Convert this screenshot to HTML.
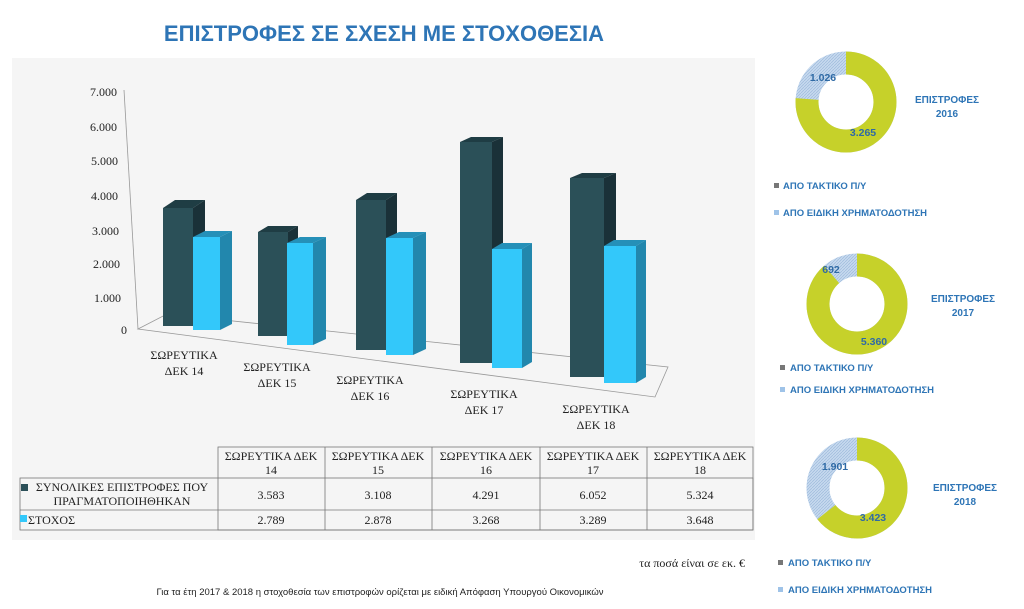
<!DOCTYPE html>
<html><head><meta charset="utf-8"><style>
body{margin:0;width:1024px;height:604px;background:#fff;overflow:hidden;font-family:"Liberation Sans",sans-serif}
</style></head><body>
<svg width="1024" height="604" xmlns="http://www.w3.org/2000/svg">
<defs>
<pattern id="h" width="3" height="3" patternUnits="userSpaceOnUse"><rect width="3" height="3" fill="#c6d9ee"/><path d="M0 3L3 0" stroke="#9fbbdc" stroke-width="0.7"/></pattern>
</defs>
<text x="384" y="41" text-anchor="middle" font-family="Liberation Sans" font-weight="bold" font-size="22" fill="#2e75b6">ΕΠΙΣΤΡΟΦΕΣ ΣΕ ΣΧΕΣΗ ΜΕ ΣΤΟΧΟΘΕΣΙΑ</text>
<rect x="12" y="58" width="743" height="482" fill="#f5f5f5"/>
<line x1="124" y1="90" x2="138" y2="329" stroke="#999" stroke-width="0.8"/>
<polygon points="138,329 167,314 668,367 655,397" fill="none" stroke="#999" stroke-width="0.8"/>
<g font-family="Liberation Serif" font-size="12" fill="#222" text-anchor="end">
<text x="117" y="96">7.000</text><text x="117" y="131">6.000</text><text x="118" y="165">5.000</text><text x="118" y="200">4.000</text><text x="119" y="235">3.000</text><text x="120" y="268">2.000</text><text x="121" y="302">1.000</text><text x="127" y="334">0</text>
</g>
<g>
<polygon points="163,208 193,208 205,200 175,200" fill="#1f3d44"/><polygon points="193,208 205,200 205,318 193,326" fill="#1a3138"/><rect x="163" y="208" width="30" height="118" fill="#2b5058"/>
<polygon points="193,237 220,237 232,231 205,231" fill="#2590b8"/><polygon points="220,237 232,231 232,324 220,330" fill="#2287ad"/><rect x="193" y="237" width="27" height="93" fill="#33c8fa"/>
<polygon points="258,232 288,232 298,226 268,226" fill="#1f3d44"/><polygon points="288,232 298,226 298,330 288,336" fill="#1a3138"/><rect x="258" y="232" width="30" height="104" fill="#2b5058"/>
<polygon points="287,243 313,243 326,237 300,237" fill="#2590b8"/><polygon points="313,243 326,237 326,339 313,345" fill="#2287ad"/><rect x="287" y="243" width="26" height="102" fill="#33c8fa"/>
<polygon points="356,200 386,200 397,193 367,193" fill="#1f3d44"/><polygon points="386,200 397,193 397,343 386,350" fill="#1a3138"/><rect x="356" y="200" width="30" height="150" fill="#2b5058"/>
<polygon points="386,238 413,238 426,232 399,232" fill="#2590b8"/><polygon points="413,238 426,232 426,349 413,355" fill="#2287ad"/><rect x="386" y="238" width="27" height="117" fill="#33c8fa"/>
<polygon points="460,142 492,142 503,137 471,137" fill="#1f3d44"/><polygon points="492,142 503,137 503,358 492,363" fill="#1a3138"/><rect x="460" y="142" width="32" height="221" fill="#2b5058"/>
<polygon points="492,249 522,249 532,243 502,243" fill="#2590b8"/><polygon points="522,249 532,243 532,362 522,368" fill="#2287ad"/><rect x="492" y="249" width="30" height="119" fill="#33c8fa"/>
<polygon points="570,178 604,178 616,173 582,173" fill="#1f3d44"/><polygon points="604,178 616,173 616,372 604,377" fill="#1a3138"/><rect x="570" y="178" width="34" height="199" fill="#2b5058"/>
<polygon points="604,246 636,246 646,240 614,240" fill="#2590b8"/><polygon points="636,246 646,240 646,377 636,383" fill="#2287ad"/><rect x="604" y="246" width="32" height="137" fill="#33c8fa"/>
</g>
<g font-family="Liberation Serif" font-size="12" fill="#222" text-anchor="middle">
<text x="184" y="359">ΣΩΡΕΥΤΙΚΑ</text><text x="184" y="375">ΔΕΚ 14</text>
<text x="277" y="371">ΣΩΡΕΥΤΙΚΑ</text><text x="277" y="387">ΔΕΚ 15</text>
<text x="370" y="384">ΣΩΡΕΥΤΙΚΑ</text><text x="370" y="400">ΔΕΚ 16</text>
<text x="484" y="398">ΣΩΡΕΥΤΙΚΑ</text><text x="484" y="414">ΔΕΚ 17</text>
<text x="596" y="413">ΣΩΡΕΥΤΙΚΑ</text><text x="596" y="429">ΔΕΚ 18</text>
</g>
<g stroke="#777" stroke-width="0.8" fill="none">
<rect x="218" y="447" width="535" height="83"/>
<rect x="20" y="478" width="733" height="52"/>
<line x1="20" y1="510" x2="753" y2="510"/>
<line x1="325" y1="447" x2="325" y2="530"/><line x1="432" y1="447" x2="432" y2="530"/><line x1="540" y1="447" x2="540" y2="530"/><line x1="647" y1="447" x2="647" y2="530"/>
</g>
<g font-family="Liberation Serif" font-size="12" fill="#222" text-anchor="middle">
<text x="271" y="460">ΣΩΡΕΥΤΙΚΑ ΔΕΚ</text><text x="271" y="474">14</text>
<text x="378" y="460">ΣΩΡΕΥΤΙΚΑ ΔΕΚ</text><text x="378" y="474">15</text>
<text x="486" y="460">ΣΩΡΕΥΤΙΚΑ ΔΕΚ</text><text x="486" y="474">16</text>
<text x="593" y="460">ΣΩΡΕΥΤΙΚΑ ΔΕΚ</text><text x="593" y="474">17</text>
<text x="700" y="460">ΣΩΡΕΥΤΙΚΑ ΔΕΚ</text><text x="700" y="474">18</text>
<text x="122" y="491">ΣΥΝΟΛΙΚΕΣ ΕΠΙΣΤΡΟΦΕΣ ΠΟΥ</text><text x="122" y="505">ΠΡΑΓΜΑΤΟΠΟΙΗΘΗΚΑΝ</text>
<text x="271" y="499">3.583</text><text x="378" y="499">3.108</text><text x="486" y="499">4.291</text><text x="593" y="499">6.052</text><text x="700" y="499">5.324</text>
<text x="271" y="524">2.789</text><text x="378" y="524">2.878</text><text x="486" y="524">3.268</text><text x="593" y="524">3.289</text><text x="700" y="524">3.648</text>
<text x="28" y="524" text-anchor="start">ΣΤΟΧΟΣ</text>
</g>
<rect x="21" y="484" width="7" height="7" fill="#2b5058"/>
<rect x="20" y="515" width="7" height="7" fill="#33c8fa"/>
<text x="745" y="567" text-anchor="end" font-family="Liberation Serif" font-size="12" fill="#222">τα ποσά είναι σε εκ. €</text>
<text x="380" y="595" text-anchor="middle" font-family="Liberation Sans" font-size="9.5" fill="#222">Για τα έτη 2017 &amp; 2018 η στοχοθεσία των επιστροφών ορίζεται με ειδική Απόφαση Υπουργού Οικονομικών</text>
<g transform="translate(846,102)">
<circle r="39" fill="none" stroke="url(#h)" stroke-width="23"/>
<circle r="39" fill="none" stroke="#c6d12a" stroke-width="23" stroke-dasharray="186.5 300" transform="rotate(-90)"/>
</g>
<g transform="translate(857,304)">
<circle r="39" fill="none" stroke="url(#h)" stroke-width="23"/>
<circle r="39" fill="none" stroke="#c6d12a" stroke-width="23" stroke-dasharray="217.1 300" transform="rotate(-90)"/>
</g>
<g transform="translate(857,488)">
<circle r="39" fill="none" stroke="url(#h)" stroke-width="23"/>
<circle r="39" fill="none" stroke="#c6d12a" stroke-width="23" stroke-dasharray="157.5 300" transform="rotate(-90)"/>
</g>
<g font-family="Liberation Sans" font-size="10.5" font-weight="bold" fill="#2f6aa5" text-anchor="middle">
<text x="823" y="81">1.026</text><text x="863" y="136">3.265</text>
<text x="831" y="273">692</text><text x="874" y="345">5.360</text>
<text x="835" y="470">1.901</text><text x="873" y="521">3.423</text>
</g>
<g font-family="Liberation Sans" font-weight="bold" font-size="10" fill="#2e75b6" text-anchor="middle">
<text x="947" y="103">ΕΠΙΣΤΡΟΦΕΣ</text><text x="947" y="117">2016</text>
<text x="963" y="302">ΕΠΙΣΤΡΟΦΕΣ</text><text x="963" y="316">2017</text>
<text x="965" y="491">ΕΠΙΣΤΡΟΦΕΣ</text><text x="965" y="505">2018</text>
</g>
<g font-family="Liberation Sans" font-size="9.5" font-weight="bold" fill="#2e75b6">
<rect x="774" y="183" width="5" height="5" fill="#777"/><text x="783" y="189">ΑΠΟ ΤΑΚΤΙΚΟ Π/Υ</text>
<rect x="774" y="210" width="5" height="5" fill="#9fc3e8"/><text x="783" y="216">ΑΠΟ ΕΙΔΙΚΗ ΧΡΗΜΑΤΟΔΟΤΗΣΗ</text>
<rect x="780" y="365" width="5" height="5" fill="#777"/><text x="790" y="371">ΑΠΟ ΤΑΚΤΙΚΟ Π/Υ</text>
<rect x="780" y="387" width="5" height="5" fill="#9fc3e8"/><text x="790" y="393">ΑΠΟ ΕΙΔΙΚΗ ΧΡΗΜΑΤΟΔΟΤΗΣΗ</text>
<rect x="778" y="560" width="5" height="5" fill="#777"/><text x="788" y="566">ΑΠΟ ΤΑΚΤΙΚΟ Π/Υ</text>
<rect x="778" y="587" width="5" height="5" fill="#9fc3e8"/><text x="788" y="593">ΑΠΟ ΕΙΔΙΚΗ ΧΡΗΜΑΤΟΔΟΤΗΣΗ</text>
</g>
</svg>
</body></html>
